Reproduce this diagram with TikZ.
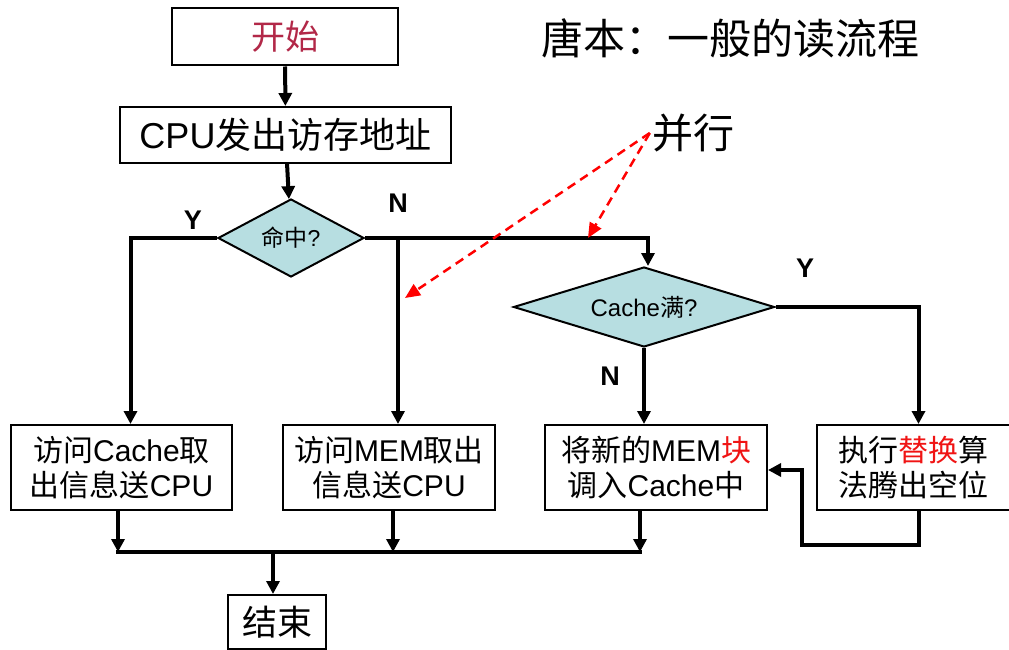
\documentclass[tikz,border=0pt]{standalone}
\usepackage{fontspec}
\setmainfont{Liberation Sans}
\newfontfamily\cjk{Noto Sans CJK SC}
\usetikzlibrary{arrows.meta,shapes.geometric}
\definecolor{startred}{RGB}{178,40,72}
\definecolor{hotred}{RGB}{240,20,20}
\definecolor{diafill}{RGB}{183,222,225}
\begin{document}
\begin{tikzpicture}[x=1pt,y=-1pt,
  box/.style={draw, line width=2pt, fill=white, inner sep=0pt, align=center},
  dia/.style={diamond, draw, line width=2pt, fill=diafill, inner sep=0pt, aspect=2},
  flow/.style={line width=4pt, -{Triangle[length=13pt,width=13pt]}},
  plain/.style={line width=4pt},
  par/.style={draw=red, line width=2.5pt, dash pattern=on 9pt off 6pt, -{Triangle[length=15pt,width=13pt]}},
  lbl/.style={font=\fontsize{27}{30}\selectfont\bfseries, inner sep=0pt},
  bt/.style={font=\fontsize{30}{35}\selectfont}
]
\useasboundingbox (0,0) rectangle (1009,650);

\node[box, minimum width=226, minimum height=57, font=\fontsize{34}{38}\selectfont] (start) at (285,37) {\cjk\color{startred}开始};
\node[box, minimum width=331, minimum height=56, font=\fontsize{36}{40}\selectfont] (cpu) at (285.5,135) {CPU{\cjk 发出访存地址}};
\node[dia, minimum width=146, minimum height=78, font=\fontsize{23}{26}\selectfont] (hit) at (291,238) {{\cjk 命中}?};
\node[dia, minimum width=261, minimum height=80, font=\fontsize{24}{27}\selectfont] (full) at (644,307) {Cache{\cjk 满}?};

\node[box, bt, minimum width=221, minimum height=85] (b1) at (121.5,467.5) {{\cjk 访问}Cache{\cjk 取}\\{\cjk 出信息送}CPU};
\node[box, bt, minimum width=212, minimum height=85] (b2) at (389,467.5) {{\cjk 访问}MEM{\cjk 取出}\\{\cjk 信息送}CPU};
\node[box, bt, minimum width=222, minimum height=85] (b3) at (656,467.5) {{\cjk 将新的}MEM{\cjk\color{hotred}块}\\{\cjk 调入}Cache{\cjk 中}};
\node[box, bt, minimum width=193, minimum height=85] (b4) at (913.5,467.5) {{\cjk 执行{\color{hotred}替换}算}\\{\cjk 法腾出空位}};
\node[box, minimum width=98, minimum height=54, font=\fontsize{35}{38}\selectfont] (end) at (277,622) {\cjk 结束};

\node[font=\fontsize{42}{46}\selectfont\cjk, inner sep=0pt] (title) at (730,38) {唐本：一般的读流程};
\node[font=\fontsize{41}{46}\selectfont\cjk, inner sep=2pt] (para) at (693,133) {并行};

\node[lbl] (y1) at (193,220) {Y};
\node[lbl] (n1) at (398,203) {N};
\node[lbl] (y2) at (805,268) {Y};
\node[lbl] (n2) at (610,376) {N};

\coordinate (j1) at (398,238);
\coordinate (m1) at (118,552);
\coordinate (m2) at (393,552);
\coordinate (m3) at (640,552);
\coordinate (mid) at (273,552);
\coordinate (fb) at (802,545);
\coordinate (t1) at (405,298);
\coordinate (t2) at (588,238);

\draw[flow] (start) -- (cpu);
\draw[flow] (cpu) -- (hit);
\draw[flow] (hit.west) -| ([xshift=9pt]b1.north);
\draw[flow] (hit.east) -| ([xshift=4pt]full.north);
\draw[flow] (j1) -- (j1 |- b2.north);
\draw[flow] (full.south) -- (full.south |- b3.north);
\draw[flow] (full.east) -| ([xshift=5pt]b4.north);
\draw[flow] ([xshift=5pt]b4.south) |- (fb) |- ([yshift=-2.5pt]b3.east);

\draw[flow] (m1 |- b1.south) -- (m1);
\draw[flow] (m2 |- b2.south) -- (m2);
\draw[flow] (m3 |- b3.south) -- (m3);
\draw[plain] ([xshift=-2pt]m1) -- ([xshift=2pt]m3);
\draw[flow] (mid) -- (mid |- end.north);

\draw[par] (para.west) -- (t1);
\draw[par] (para.west) -- (t2);
\end{tikzpicture}
\end{document}
